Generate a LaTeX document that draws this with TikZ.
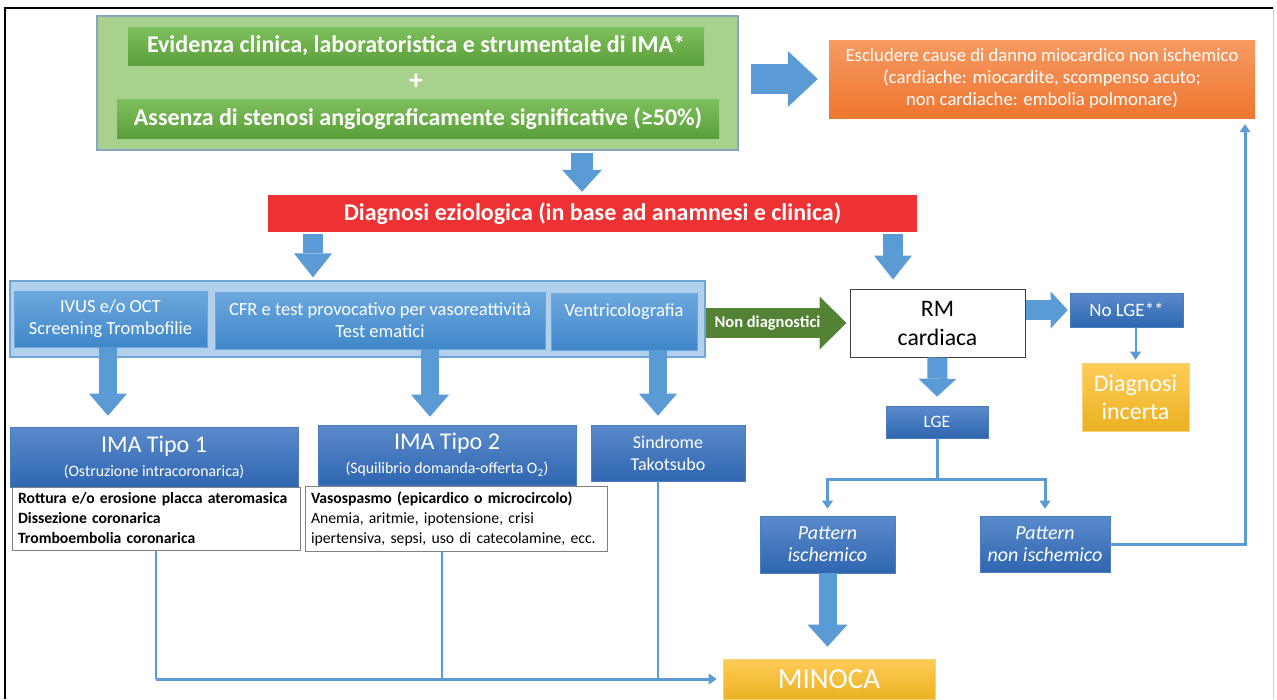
\documentclass[tikz,border=0pt]{standalone}
\usepackage{fontspec}
\setmainfont{Carlito}
\usetikzlibrary{arrows.meta,calc,positioning}

\definecolor{lightgreen}{HTML}{A9D18E}
\definecolor{outline}{HTML}{8AA3C2}
\definecolor{gbtop}{HTML}{7DBF5C}
\definecolor{gbbot}{HTML}{5B9F3A}
\definecolor{ortop}{HTML}{F79A62}
\definecolor{orbot}{HTML}{EE7630}
\definecolor{diagred}{HTML}{EE3133}
\definecolor{bandfill}{HTML}{B1D0EB}
\definecolor{bandline}{HTML}{6FA6D9}
\definecolor{bbtop}{HTML}{6DA8DE}
\definecolor{bbbot}{HTML}{3F87C9}
\definecolor{dbtop}{HTML}{5A8ACB}
\definecolor{dbbot}{HTML}{2F66B0}
\definecolor{darkline}{HTML}{4A7CBF}
\definecolor{yltop}{HTML}{FFCC57}
\definecolor{ylbot}{HTML}{EBB122}
\definecolor{ylline}{HTML}{F6D27A}
\definecolor{arrowblue}{HTML}{5B9BD5}
\definecolor{ndgreen}{HTML}{548235}
\definecolor{rmline}{HTML}{404040}
\definecolor{listline}{HTML}{808080}

\newcommand{\fsz}[2]{\fontsize{#1}{#2}\selectfont}

\begin{document}
\begin{tikzpicture}[x=1pt,y=-1pt,
	wh/.style 2 args={minimum width=#1pt, minimum height=#2pt, inner sep=0pt},
	darkbox/.style={draw=darkline, line width=0.6pt, top color=dbtop, bottom color=dbbot, text=white, align=center},
	bandbox/.style={draw=bandline, line width=0.6pt, top color=bbtop, bottom color=bbbot, text=white, align=center, font=\fsz{18.5}{22}},
	greenbox/.style={top color=gbtop, bottom color=gbbot, text=white, font=\bfseries\fsz{24}{26}},
	yellowbox/.style={draw=ylline, line width=0.6pt, top color=yltop, bottom color=ylbot, text=white, align=center},
	listbox/.style={draw=listline, line width=0.8pt, fill=white, align=left, font=\fsz{15.7}{20}},
	blockarrow/.style n args={3}{draw=arrowblue, line width=#1pt, -{Triangle[width=#2pt, length=#3pt, line width=0pt]}},
	flow/.style={draw=arrowblue, line width=#1pt, -{Triangle[width=11pt, length=8pt, line width=0pt]}},
	flow/.default=2.5,
	vline/.style={draw=arrowblue, line width=1.5pt}]
	\useasboundingbox (0,0) rectangle (1277,699);
	\draw[line width=1.5pt] (5,699) -- (5,8) -- (1273,8);
	\draw[gray!40, line width=1pt] (1273,8) -- (1273,699);

	% top block
	\node[wh={641}{134}, draw=outline, line width=1.2pt, fill=lightgreen] (outer) at (417.5,83) {};
	\node[greenbox, wh={576}{38}] (ev1) at (416,46) {Evidenza clinica, laboratoristica e strumentale di IMA*};
	\node[text=white, font=\bfseries\fsz{28}{30}] (plus) at (416,82) {+};
	\node[greenbox, wh={602}{39}] (ev2) at (418,118.5) {Assenza di stenosi angiograficamente significative (≥50\%)};
	\node[wh={426}{78}, top color=ortop, bottom color=orbot, text=white, align=center, font=\fsz{18.7}{22}] (excl) at (1042,79)
		{Escludere cause di danno miocardico non ischemico\\(cardiache: miocardite, scompenso acuto;\\non cardiache: embolia polmonare)};
	\node[wh={649}{37}, fill=diagred, text=white, font=\bfseries\fsz{24}{26}] (diag) at (592.5,213.5) {Diagnosi eziologica (in base ad anamnesi e clinica)};

	% band of tests
	\node[wh={695}{76}, draw=bandline, line width=1.2pt, fill=bandfill] (band) at (357.5,319) {};
	\node[bandbox, wh={193}{56}] (ivus) at (110.5,319) {IVUS e/o OCT\\Screening Trombofilie};
	\node[bandbox, wh={330}{57}] (cfr) at (380,320.5) {CFR e test provocativo per vasoreattività\\Test ematici};
	\node[bandbox, wh={146}{57}] (vent) at (624,321.5) {Ventricolografia\\\mbox{}};

	% right side
	\node[wh={175}{68}, draw=rmline, line width=1pt, fill=white, align=center, font=\fsz{23.7}{29}] (rm) at (937.5,323) {RM\\cardiaca};
	\node[darkbox, wh={113}{34}, font=\fsz{19}{22}] (nolge) at (1126.5,310) {No LGE**};
	\node[yellowbox, wh={107}{68}, font=\fsz{24}{28}] (incerta) at (1135.5,397) {Diagnosi\\incerta};
	\node[darkbox, wh={102}{32}, font=\fsz{17.5}{21}] (lge) at (937,422) {LGE};
	\node[darkbox, wh={135}{57}, font=\itshape\fsz{20}{22}] (pis) at (827.5,544.5) {Pattern\\ischemico};
	\node[darkbox, wh={130}{56}, font=\itshape\fsz{20}{22}] (pnis) at (1045,544) {Pattern\\non ischemico};
	\node[yellowbox, wh={212}{40}, font=\fsz{29}{30}] (minoca) at (829,679) {MINOCA};

	% left side
	\node[darkbox, wh={288}{60}, font=\fsz{24}{24}] (ima1) at (154,457) {IMA Tipo 1\\{\fsz{15.8}{17}(Ostruzione intracoronarica)}};
	\node[listbox, wh={288}{63}, text width=276pt] (list1) at (156,518.5)
		{\bfseries Rottura e/o erosione placca ateromasica\\Dissezione coronarica\\Tromboembolia coronarica};
	\node[darkbox, wh={258}{60}, font=\fsz{24}{24}] (ima2) at (447,455) {IMA Tipo 2\\{\fsz{15.8}{17}(Squilibrio domanda-offerta O\textsubscript{2})}};
	\node[listbox, wh={302}{65}, text width=290pt] (list2) at (456,518.5)
		{\textbf{Vasospasmo (epicardico o microcircolo)}\\Anemia, aritmie, ipotensione, crisi\\ipertensiva, sepsi, uso di catecolamine, ecc.};
	\node[darkbox, wh={154}{56}, font=\fsz{18}{22}] (tako) at (668,453) {Sindrome\\Takotsubo};

	% connectors
	\draw[blockarrow={30}{56}{30}, shorten <=12pt, shorten >=11pt] (outer.east |- excl.west) -- (excl.west);
	\draw[blockarrow={22}{40}{22}, shorten <=2pt, shorten >=3pt] (outer.south -| 582,0) -- (diag.north -| 582,0);
	\draw[blockarrow={20}{38}{24}, shorten <=2pt, shorten >=3pt] (diag.south -| 313,0) -- (band.north -| 313,0);
	\draw[blockarrow={20}{38}{24}, shorten <=2pt, shorten >=9pt] (diag.south -| 893,0) -- (rm.north -| 893,0);
	\draw[blockarrow={18}{38}{22}, shorten >=11pt] (ivus.south -| 108,0) -- (ima1.north -| 108,0);
	\draw[blockarrow={18}{38}{22}, shorten >=8pt] (cfr.south -| 430,0) -- (ima2.north -| 430,0);
	\draw[blockarrow={18}{38}{22}, shorten >=9pt] (vent.south -| 658,0) -- (tako.north -| 658,0);
	\draw[blockarrow={30}{53}{27}, draw=ndgreen, shorten >=3pt] (band.east |- rm.west) -- (rm.west)
		node[pos=.43, text=white, font=\bfseries\fsz{16.5}{18}] (nd) {Non diagnostici};
	\draw[blockarrow={20}{37}{17}, shorten >=2pt] (rm.east |- nolge.west) -- (nolge.west);
	\draw[flow=2, shorten >=3pt] (nolge.south -| incerta.north) -- (incerta.north);
	\draw[blockarrow={20}{38}{18}, shorten >=9pt] (rm.south) -- (lge.north);
	\draw[flow=3, shorten >=7pt] (lge.south) -- ++(0,41) -| (pis.north);
	\draw[flow=3, shorten >=7pt] (lge.south) -- ++(0,41) -| (pnis.north);
	\draw[flow=3, shorten >=6pt] (pnis.east) -| (excl.south -| 1245,0);
	\draw[blockarrow={18}{40}{22}, shorten >=12pt] (pis.south) -- (pis.south |- minoca.north);
	\draw[vline] (list1.south) -- (list1.south |- minoca.west);
	\draw[vline] (list2.south -| 442,0) -- (minoca.west -| 442,0);
	\draw[vline] (tako.south -| 658,0) -- (minoca.west -| 658,0);
	\draw[flow=3, shorten >=6pt] (list1.south |- minoca.west) -- (minoca.west);
\end{tikzpicture}
\end{document}
